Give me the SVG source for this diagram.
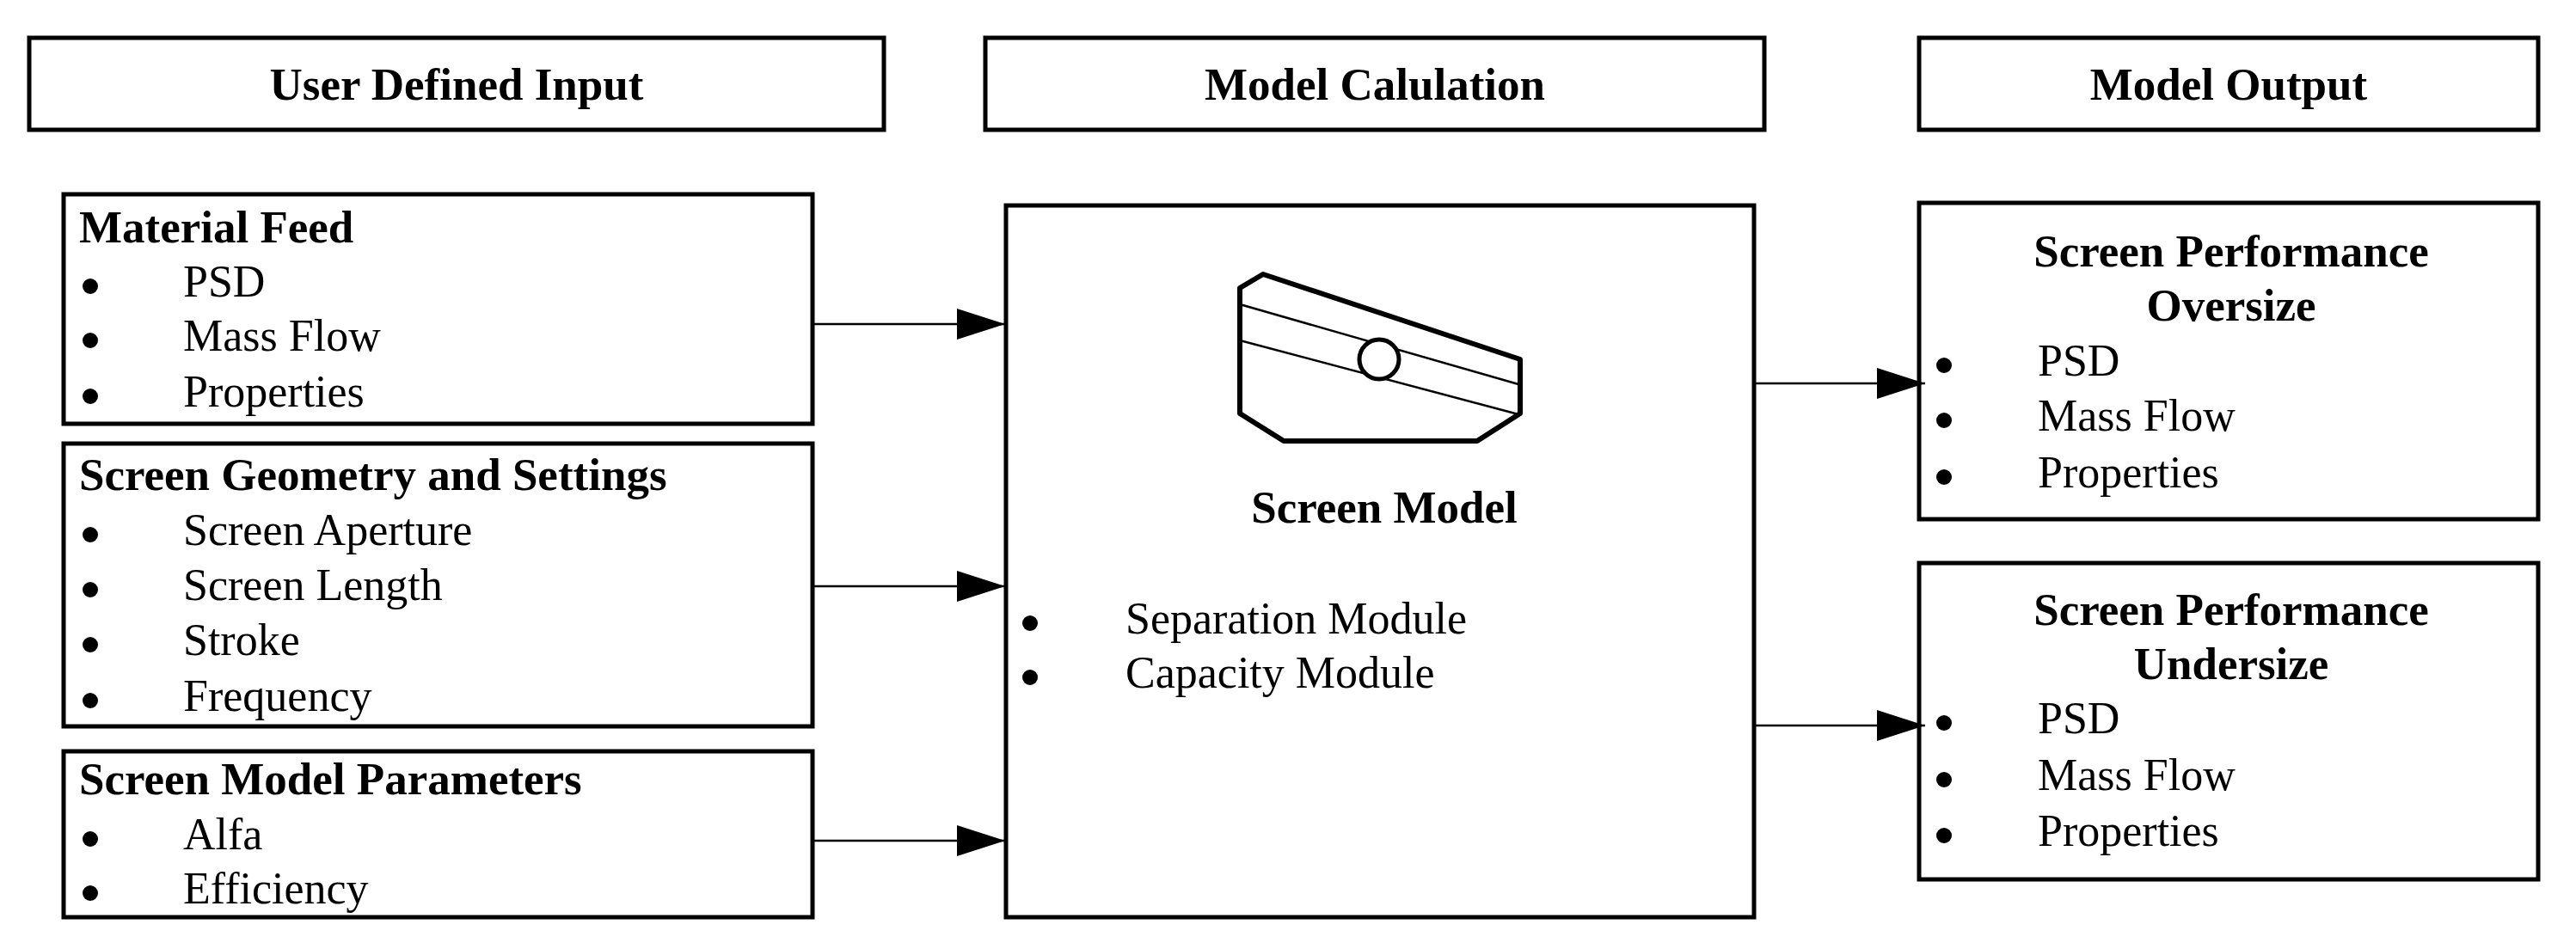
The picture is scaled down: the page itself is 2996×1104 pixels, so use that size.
<svg xmlns="http://www.w3.org/2000/svg" width="2996" height="1104" viewBox="0 0 2996 1104">
<style>
.box{fill:#fff;stroke:#000;stroke-width:5}
.h{font-family:"Liberation Serif",serif;font-weight:bold;font-size:53px}
.t{font-family:"Liberation Serif",serif;font-size:52px}
.c{text-anchor:middle}
.ln{stroke:#000;stroke-width:2.5;fill:none}
</style>
<defs>
<marker id="ar" markerUnits="userSpaceOnUse" markerWidth="58" markerHeight="38" refX="56" refY="18" orient="auto">
<path d="M0,0 L56,18 L0,36 Z" fill="#000"/>
</marker>
</defs>
<rect width="2996" height="1104" fill="#fff"/>
<g id="hdr-input"><rect class="box" x="34" y="44" width="994" height="107"/><text class="h c" x="531" y="116">User Defined Input</text></g>
<g id="hdr-calc"><rect class="box" x="1146" y="44" width="906" height="107"/><text class="h c" x="1599" y="116">Model Calulation</text></g>
<g id="hdr-output"><rect class="box" x="2232" y="44" width="720" height="107"/><text class="h c" x="2592" y="116">Model Output</text></g>

<g id="material-feed"><rect class="box" x="74" y="226" width="871" height="267"/>
<text class="h" x="92" y="282">Material Feed</text>
<circle cx="105" cy="333" r="9"/><text class="t" x="213" y="345">PSD</text>
<circle cx="105" cy="396" r="9"/><text class="t" x="213" y="408">Mass Flow</text>
<circle cx="105" cy="461" r="9"/><text class="t" x="213" y="473">Properties</text></g>

<g id="screen-geometry"><rect class="box" x="74" y="516" width="871" height="329"/>
<text class="h" x="92" y="570">Screen Geometry and Settings</text>
<circle cx="105" cy="622" r="9"/><text class="t" x="213" y="634">Screen Aperture</text>
<circle cx="105" cy="686" r="9"/><text class="t" x="213" y="698">Screen Length</text>
<circle cx="105" cy="750" r="9"/><text class="t" x="213" y="762">Stroke</text>
<circle cx="105" cy="815" r="9"/><text class="t" x="213" y="827">Frequency</text></g>

<g id="model-params"><rect class="box" x="74" y="874" width="871" height="193"/>
<text class="h" x="92" y="924">Screen Model Parameters</text>
<circle cx="105" cy="976" r="9"/><text class="t" x="213" y="988">Alfa</text>
<circle cx="105" cy="1039" r="9"/><text class="t" x="213" y="1051">Efficiency</text></g>

<g id="screen-model"><rect class="box" x="1170" y="239" width="870" height="828"/>
<polygon points="1442,335 1469,319 1768,418 1768,481 1718,513 1493,513 1442,481" fill="none" stroke="#000" stroke-width="6" stroke-linejoin="round"/>
<line class="ln" x1="1442" y1="354" x2="1766" y2="447"/>
<line class="ln" x1="1442" y1="396" x2="1766" y2="482"/>
<circle cx="1604" cy="418" r="23" fill="#fff" stroke="#000" stroke-width="5"/>
<text class="h c" x="1610" y="608">Screen Model</text>
<circle cx="1198" cy="725" r="9"/><text class="t" x="1309" y="737">Separation Module</text>
<circle cx="1198" cy="788" r="9"/><text class="t" x="1309" y="800">Capacity Module</text></g>

<g id="oversize"><rect class="box" x="2232" y="236" width="720" height="368"/>
<text class="h c" x="2595" y="310">Screen Performance</text>
<text class="h c" x="2595" y="373">Oversize</text>
<circle cx="2261" cy="425" r="9"/><text class="t" x="2370" y="437">PSD</text>
<circle cx="2261" cy="489" r="9"/><text class="t" x="2370" y="501">Mass Flow</text>
<circle cx="2261" cy="555" r="9"/><text class="t" x="2370" y="567">Properties</text></g>

<g id="undersize"><rect class="box" x="2232" y="655" width="720" height="368"/>
<text class="h c" x="2595" y="727">Screen Performance</text>
<text class="h c" x="2595" y="790">Undersize</text>
<circle cx="2261" cy="841" r="9"/><text class="t" x="2370" y="853">PSD</text>
<circle cx="2261" cy="907" r="9"/><text class="t" x="2370" y="919">Mass Flow</text>
<circle cx="2261" cy="972" r="9"/><text class="t" x="2370" y="984">Properties</text></g>

<g id="connectors">
<line class="ln" x1="947" y1="377" x2="1169" y2="377" marker-end="url(#ar)"/>
<line class="ln" x1="947" y1="682" x2="1169" y2="682" marker-end="url(#ar)"/>
<line class="ln" x1="947" y1="978" x2="1169" y2="978" marker-end="url(#ar)"/>
<line class="ln" x1="2042" y1="446" x2="2239" y2="446" marker-end="url(#ar)"/>
<line class="ln" x1="2042" y1="844" x2="2239" y2="844" marker-end="url(#ar)"/>
</g>
</svg>
